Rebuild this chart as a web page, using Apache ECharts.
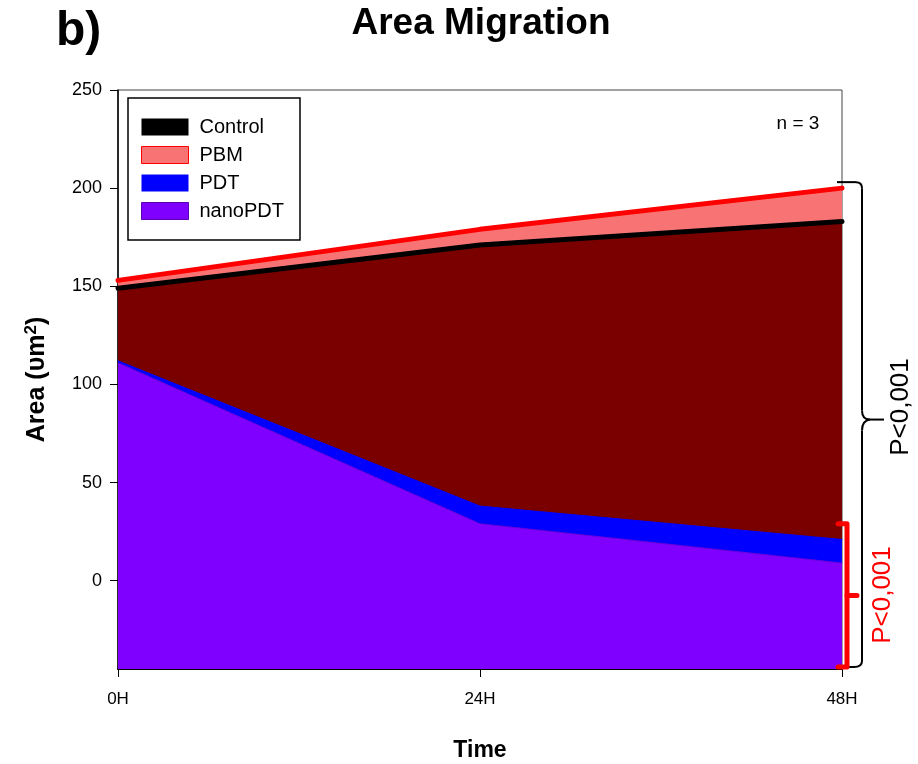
<!DOCTYPE html>
<html>
<head>
<meta charset="utf-8">
<script src="https://cdn.jsdelivr.net/npm/echarts@6/dist/echarts.min.js"></script>
<style>
  html, body { margin: 0; padding: 0; background: #fff; }
  #chart { width: 918px; height: 764px; }
</style>
</head>
<body>
<div id="chart"></div>
<script>
var times = ['0H', '24H', '48H'];
var yTicks = [0, 50, 100, 150, 200, 250];
var pbm = [153, 179, 200];
var control = [149, 171, 183];
var pdt = [112, 38, 21];
var nanoPdt = [111, 29, 9];

var font = "'Liberation Sans', Arial, sans-serif";
var narrow = "'Liberation Sans Narrow', 'Arial Narrow', 'Liberation Sans', Arial, sans-serif";

var chart = echarts.init(document.getElementById('chart'));

function areaSeries(name, data, lineColor, lineWidth, fill, z) {
    return {
        name: name,
        type: 'line',
        data: data,
        symbol: 'none',
        z: z,
        lineStyle: { color: lineColor, width: lineWidth, cap: 'round' },
        itemStyle: { color: lineColor },
        areaStyle: { color: fill, opacity: 1, origin: 'start' }
    };
}

var option = {
    backgroundColor: '#fff',
    animation: false,
    title: {
        text: 'Area Migration',
        left: 476,
        top: 0,
        textAlign: 'center',
        textStyle: { fontFamily: font, fontSize: 37, fontWeight: 'bold', color: '#000' }
    },
    grid: {
        left: 118, right: 76, top: 90, bottom: 95,
        outerBoundsMode: 'none',
        show: true, borderColor: '#444', borderWidth: 1, backgroundColor: 'transparent'
    },
    legend: {
        orient: 'vertical',
        left: 128,
        top: 98,
        padding: [19, 16, 19, 13],
        borderColor: '#000',
        borderWidth: 1.5,
        icon: 'rect',
        itemWidth: 47,
        itemHeight: 17,
        itemGap: 8,
        textStyle: { fontFamily: font, fontSize: 20, color: '#000', padding: [0, 0, 0, 6] },
        data: [
            { name: 'Control', itemStyle: { color: '#000', borderWidth: 0 } },
            { name: 'PBM', itemStyle: { color: '#f87474', borderColor: '#ff0000', borderWidth: 1 } },
            { name: 'PDT', itemStyle: { color: '#0000ff', borderWidth: 0 } },
            { name: 'nanoPDT', itemStyle: { color: '#7f00ff', borderColor: '#5a00b0', borderWidth: 1 } }
        ]
    },
    xAxis: {
        type: 'category',
        data: times,
        boundaryGap: false,
        name: 'Time',
        nameLocation: 'middle',
        nameGap: 70,
        nameTextStyle: { fontFamily: narrow, fontSize: 23, fontWeight: 'bold', color: '#000' },
        axisLine: { onZero: false, lineStyle: { color: '#000', width: 2 } },
        axisTick: { length: 8, inside: false, lineStyle: { color: '#000', width: 1 } },
        axisLabel: { margin: 22, fontFamily: narrow, fontSize: 17, color: '#000' },
        splitLine: { show: false }
    },
    yAxis: {
        type: 'value',
        min: -45,
        max: 250,
        name: 'Area (υm{sup|2})',
        nameLocation: 'middle',
        nameRotate: 90,
        nameGap: 66,
        nameTextStyle: {
            fontFamily: font, fontSize: 25, fontWeight: 'bold', color: '#000',
            rich: { sup: { fontFamily: font, fontSize: 17, fontWeight: 'bold', verticalAlign: 'top', padding: [0, 0, 12, 0] } }
        },
        axisLine: { show: true, onZero: false, lineStyle: { color: '#000', width: 1.5 } },
        axisTick: { show: true, length: 8, customValues: yTicks, lineStyle: { color: '#000', width: 1 } },
        axisLabel: { customValues: yTicks, margin: 16, fontFamily: font, fontSize: 18, color: '#000' },
        splitLine: { show: false }
    },
    series: [
        areaSeries('PBM', pbm, '#ff0000', 5, '#f87474', 2),
        areaSeries('Control', control, '#000000', 5, '#7a0000', 3),
        areaSeries('PDT', pdt, '#0000ff', 1, '#0000ff', 4),
        areaSeries('nanoPDT', nanoPdt, '#6a00d8', 1, '#7f00ff', 5)
    ]
};
chart.setOption(option);

// brackets and p-value notes placed from the axis scale
var xEnd = chart.convertToPixel({ xAxisIndex: 0 }, times[2]);
var yTop = chart.convertToPixel({ yAxisIndex: 0 }, pbm[2]) - 6;
var yBot = chart.convertToPixel({ yAxisIndex: 0 }, -45) - 2;
var yMid = (yTop + yBot) / 2 - 4;
var bx = xEnd + 20;
var redTop = chart.convertToPixel({ yAxisIndex: 0 }, 29);
var redMid = (redTop + yBot) / 2;
var rx = xEnd + 5;

var braceStyle = { fill: null, stroke: '#000', lineWidth: 2 };
function seg(x1, y1, x2, y2) {
    return { type: 'line', z: 100, shape: { x1: x1, y1: y1, x2: x2, y2: y2 }, style: braceStyle };
}
function curve(x1, y1, cx, cy, x2, y2) {
    return { type: 'bezierCurve', z: 100, shape: { x1: x1, y1: y1, cpx1: cx, cpy1: cy, x2: x2, y2: y2 }, style: braceStyle };
}

var graphics = [
    {
        type: 'text', left: 56, top: 8,
        style: { text: 'b)', fontFamily: font, fontSize: 48, fontWeight: 'bold', fill: '#000' }
    },
    {
        type: 'text', x: 798, y: 124,
        style: { text: 'n = 3', fontFamily: font, fontSize: 19, fill: '#000', align: 'center', verticalAlign: 'middle' }
    },
    seg(xEnd - 5, yTop, bx - 6, yTop),
    curve(bx - 6, yTop, bx, yTop, bx, yTop + 6),
    seg(bx, yTop + 6, bx, yMid - 10),
    curve(bx, yMid - 10, bx, yMid - 1, bx + 8, yMid - 1),
    seg(bx + 8, yMid - 1, bx + 22, yMid - 1),
    curve(bx + 8, yMid - 1, bx, yMid, bx, yMid + 10),
    seg(bx, yMid + 10, bx, yBot - 6),
    curve(bx, yBot - 6, bx, yBot, bx - 8, yBot),
    seg(bx - 8, yBot, xEnd + 3, yBot),
    {
        type: 'polyline', z: 101,
        shape: { points: [[rx - 9, redTop], [rx, redTop], [rx, yBot], [rx - 9, yBot]] },
        style: { fill: null, stroke: '#ff0000', lineWidth: 5, lineJoin: 'round', lineCap: 'round' }
    },
    {
        type: 'line', z: 101,
        shape: { x1: rx, y1: redMid, x2: rx + 10, y2: redMid },
        style: { stroke: '#ff0000', lineWidth: 5, lineCap: 'round' }
    },
    {
        type: 'text', x: 901, y: 407, rotation: Math.PI / 2,
        style: { text: 'P<0,001', fontFamily: font, fontSize: 26, fill: '#000', align: 'center', verticalAlign: 'middle' }
    },
    {
        type: 'text', x: 883, y: 595, rotation: Math.PI / 2,
        style: { text: 'P<0,001', fontFamily: font, fontSize: 26, fill: '#ff0000', align: 'center', verticalAlign: 'middle' }
    }
];
chart.setOption({ graphic: graphics });
</script>
</body>
</html>
